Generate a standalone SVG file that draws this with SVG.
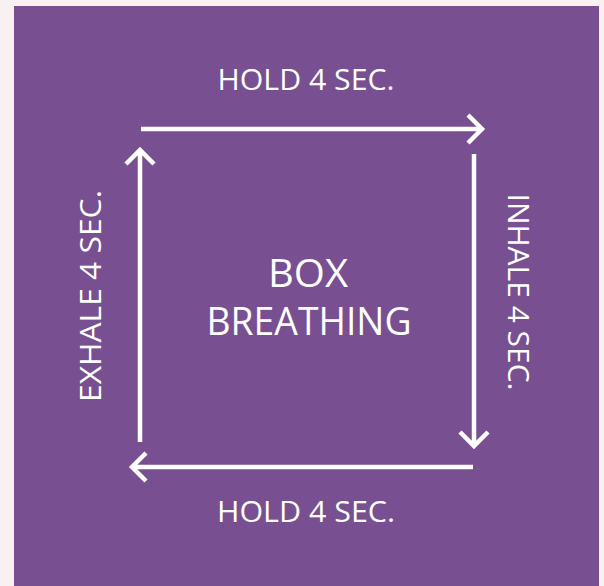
<svg xmlns="http://www.w3.org/2000/svg" width="604" height="586" viewBox="0 0 604 586">
<style>
.lbl{font-family:"Open Sans","Liberation Sans",sans-serif;fill:#ffffff;}
.side{font-size:29px;}
.title{font-size:38px;}
.ln{stroke:#ffffff;stroke-width:4.5;fill:none;stroke-linejoin:miter;}
</style>
<rect x="0" y="0" width="604" height="586" fill="#f9f0f1"/>
<rect x="14" y="6" width="585" height="580" fill="#784f91"/>
<g id="connectors">
<path class="ln" d="M141,129 H482 M468,115 L482,129 L468,143"/>
<path class="ln" d="M474,154 V446 M460,432 L474,446 L488,432"/>
<path class="ln" d="M473,467 H132 M146,453 L132,467 L146,481"/>
<path class="ln" d="M140,442 V150 M126,164 L140,150 L154,164"/>
</g>
<g id="center">
<text class="lbl title" x="308" y="287" text-anchor="middle" textLength="80" lengthAdjust="spacingAndGlyphs">BOX</text>
<text class="lbl title" x="309" y="335" text-anchor="middle" textLength="205" lengthAdjust="spacingAndGlyphs">BREATHING</text>
</g>
<g id="hold-top">
<text class="lbl side" x="306" y="90" text-anchor="middle" textLength="177" lengthAdjust="spacingAndGlyphs">HOLD 4 SEC.</text>
</g>
<g id="hold-bottom">
<text class="lbl side" x="306" y="522" text-anchor="middle" textLength="178" lengthAdjust="spacingAndGlyphs">HOLD 4 SEC.</text>
</g>
<g id="exhale">
<text class="lbl side" transform="translate(101,296) rotate(-90)" x="0" y="0" text-anchor="middle" textLength="212" lengthAdjust="spacingAndGlyphs">EXHALE 4 SEC.</text>
</g>
<g id="inhale">
<text class="lbl side" transform="translate(508,292) rotate(90)" x="0" y="0" text-anchor="middle" textLength="197" lengthAdjust="spacingAndGlyphs">INHALE 4 SEC.</text>
</g>
</svg>
